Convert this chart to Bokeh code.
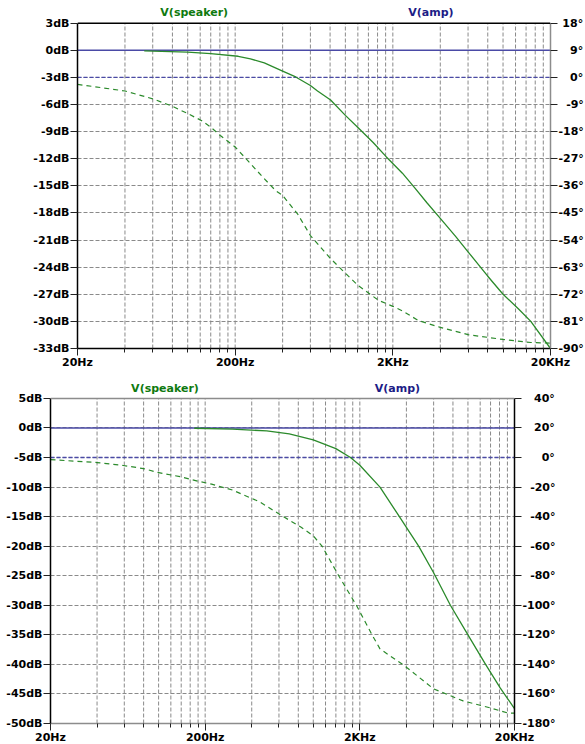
from bokeh.plotting import figure
from bokeh.models import Range1d, LinearAxis, FixedTicker, Span, Label
from bokeh.layouts import column, row
from bokeh.embed import file_html
from bokeh.resources import INLINE

# ---------------- data ----------------
decade_ticks = [20, 200, 2000, 20000]
decade_labels = ["20Hz", "200Hz", "2KHz", "20KHz"]
grid_ticks = [20 * k * 10 ** n for n in range(3) for k in range(1, 10)] + [20000]

amp_freq = [20, 20000]
amp_mag = [0, 0]
amp_phase = [0, 0]

# top panel
top_db_ticks = list(range(-33, 4, 3))
top_deg_ticks = list(range(-90, 19, 9))
top_mag_freq = [53, 100, 140, 209, 250, 306, 400, 484, 600, 666, 806, 1000, 1210, 1500,
                1820, 2300, 2780, 3300, 4000, 5000, 6000, 8000, 10000, 12500, 15000, 20000]
top_mag_db = [-0.07, -0.2, -0.37, -0.66, -0.95, -1.4, -2.3, -2.95, -3.9, -4.5, -5.5, -7.2, -8.6, -10.2,
              -11.8, -13.6, -15.3, -16.9, -18.6, -20.6, -22.3, -25.0, -27.0, -28.6, -30.0, -33.0]
top_ph_freq = [20, 40, 60, 80, 100, 122, 140, 161, 200, 250, 298, 360, 400, 500, 600, 800,
               1000, 1200, 1620, 2000, 2300, 2900, 4000, 6000, 10000, 15000, 20000]
top_ph_deg = [-2.3, -4.5, -7.1, -9.6, -12.0, -14.3, -16.5, -19.3, -23.1, -28.6, -33.0, -37.5, -39.2,
              -45.5, -52.5, -60.0, -65.0, -69.0, -74.0, -76.0, -77.5, -80.7, -83.0, -85.4, -87.0,
              -88.0, -88.2]

# bottom panel
bot_db_ticks = list(range(-50, 6, 5))
bot_deg_ticks = list(range(-180, 41, 20))
bot_mag_freq = [170, 300, 500, 700, 1000, 1400, 1740, 2000, 2700, 3500, 4800, 6000, 7700,
                10000, 13000, 16200, 20000]
bot_mag_db = [-0.05, -0.2, -0.5, -1.0, -2.0, -3.5, -5.0, -6.3, -10.0, -14.5, -20.0, -24.5, -30.0,
              -35.0, -40.0, -44.0, -47.5]
bot_ph_freq = [20, 40, 59, 80, 98, 138, 179, 220, 300, 450, 640, 830, 1000, 1140, 1460, 1900,
               2400, 2700, 3900, 6000, 9300, 14000, 18100, 20000]
bot_ph_deg = [-1.4, -3.4, -5.4, -7.5, -10.0, -13.0, -16.0, -18.0, -22.0, -30.0, -40.0, -47.0,
              -53.0, -60.0, -80.0, -100.0, -120.0, -129.5, -141.0, -156.6, -164.7, -169.5,
              -172.9, -173.0]

FONT = "DejaVu Sans"
GREEN = "#2b8a2b"
GREEN_TXT = "#0f7a0f"
BLUE = "#4a4aa6"
BLUE_TXT = "#1c1c86"
GRID = "#8a8a8a"
EDGE_GRAY = "#8c8c8c"


def deg_labels(ticks):
    """Right-align the degree labels by padding (NBSP ~ minus sign, figure space = digit)."""
    maxd = max(len(str(abs(t))) for t in ticks)
    out = {}
    for t in ticks:
        s = f"{t}°"
        pad = ("\u00a0" if t >= 0 else "") + "\u2007" * (maxd - len(str(abs(t))))
        out[t] = pad + s
    return out


def style_axis(ax, color):
    ax.axis_line_color = color
    ax.axis_line_width = 1.5
    ax.major_tick_line_color = "#222222"
    ax.major_tick_in = 0
    ax.major_label_text_font = FONT
    ax.major_label_text_font_style = "bold"
    ax.major_label_text_font_size = "11px"
    ax.major_label_text_color = "black"


def panel(db_lim, db_top_view, deg_lim, deg_top_view, db_ticks, deg_ticks,
          mag_f, mag_v, ph_f, ph_v, left_border, frame_w, frame_h, top_border,
          edge_colors, lab_y, lab_x):
    p = figure(x_axis_type="log", x_range=Range1d(20, 20000),
               y_range=Range1d(db_lim[0], db_top_view), frame_width=frame_w,
               frame_height=frame_h, min_border_left=left_border, min_border_right=3,
               min_border_top=top_border, min_border_bottom=18, output_backend="svg",
               toolbar_location=None, outline_line_color=None,
               background_fill_color="white", border_fill_color="white")
    p.extra_y_ranges = {"phase": Range1d(deg_lim[0], deg_top_view)}
    left_c, top_c, right_c, bottom_c = edge_colors

    # x axis
    xa = p.xaxis[0]
    xa.ticker = FixedTicker(ticks=decade_ticks,
                            minor_ticks=[t for t in grid_ticks if t not in decade_ticks])
    xa.major_label_overrides = {t: l for t, l in zip(decade_ticks, decade_labels)}
    style_axis(xa, bottom_c)
    xa.major_tick_out = 7
    xa.minor_tick_out = 4
    xa.minor_tick_in = 0
    xa.minor_tick_line_color = "#222222"
    xa.major_label_standoff = 0

    # left axis
    ya = p.yaxis[0]
    ya.ticker = FixedTicker(ticks=db_ticks)
    ya.bounds = tuple(db_lim)
    ya.major_label_overrides = {t: f"{t}dB" for t in db_ticks}
    style_axis(ya, left_c)
    ya.major_tick_out = 7
    ya.minor_tick_line_color = None
    ya.major_label_standoff = 1

    # right axis
    ra = LinearAxis(y_range_name="phase", ticker=FixedTicker(ticks=deg_ticks))
    ra.bounds = tuple(deg_lim)
    ra.major_label_overrides = deg_labels(deg_ticks)
    style_axis(ra, right_c)
    ra.major_tick_out = 7
    ra.minor_tick_line_color = None
    ra.major_label_standoff = 1
    p.add_layout(ra, "right")

    # grid: horizontal via Grid, vertical via segments bounded to the data box
    p.xgrid.visible = False
    p.ygrid.ticker = FixedTicker(ticks=db_ticks)
    p.ygrid.grid_line_color = GRID
    p.ygrid.grid_line_dash = "4 2"
    p.ygrid.grid_line_width = 1
    vx = [t for t in grid_ticks if t not in (20, 20000)]
    p.segment(x0=vx, y0=[db_lim[0]] * len(vx), x1=vx, y1=[db_lim[1]] * len(vx),
              line_color=GRID, line_dash="4 2", line_width=1)

    p.add_layout(Span(location=db_lim[1], dimension="width", line_color=top_c,
                      line_width=1.5))

    # traces
    p.line(amp_freq, amp_mag, line_color=BLUE, line_width=1.4)
    p.line(amp_freq, amp_phase, y_range_name="phase", line_color=BLUE, line_width=1.4,
           line_dash="4 2")
    p.line(mag_f, mag_v, line_color=GREEN, line_width=1.3)
    p.line(ph_f, ph_v, y_range_name="phase", line_color=GREEN, line_width=1.2,
           line_dash="5 4")

    p.add_layout(Label(x=lab_x[0], y=lab_y, text="V(speaker)", text_align="center",
                       text_baseline="middle", text_font=FONT, text_font_style="bold",
                       text_font_size="11px", text_color=GREEN_TXT))
    p.add_layout(Label(x=lab_x[1], y=lab_y, text="V(amp)", text_align="center",
                       text_baseline="middle", text_font=FONT, text_font_style="bold",
                       text_font_size="11px", text_color=BLUE_TXT))
    return p


# top: frame 3..348 px; 3 dB at ~22.7 px -> view top 5.18 dB (phase = 3*dB + 9)
top = panel((-33, 3), 5.18, (-90, 18), 24.54, top_db_ticks, top_deg_ticks,
            top_mag_freq, top_mag_db, top_ph_freq, top_ph_deg,
            77, 473, 345, 3, ("black", "black", EDGE_GRAY, "black"), 4.2, (110, 3490))
# bottom: frame 378..722 px; 5 dB at 397 px -> view top 8.2 dB (phase = 4*dB + 20)
bot = panel((-50, 5), 8.2, (-180, 40), 52.8, bot_db_ticks, bot_deg_ticks,
            bot_mag_freq, bot_mag_db, bot_ph_freq, bot_ph_deg,
            50, 464, 344, 8, ("black", EDGE_GRAY, "black", EDGE_GRAY), 6.6, (110, 3500))

layout = column(top, row(bot), spacing=0)
open("out.html", "w").write(file_html(layout, INLINE))
